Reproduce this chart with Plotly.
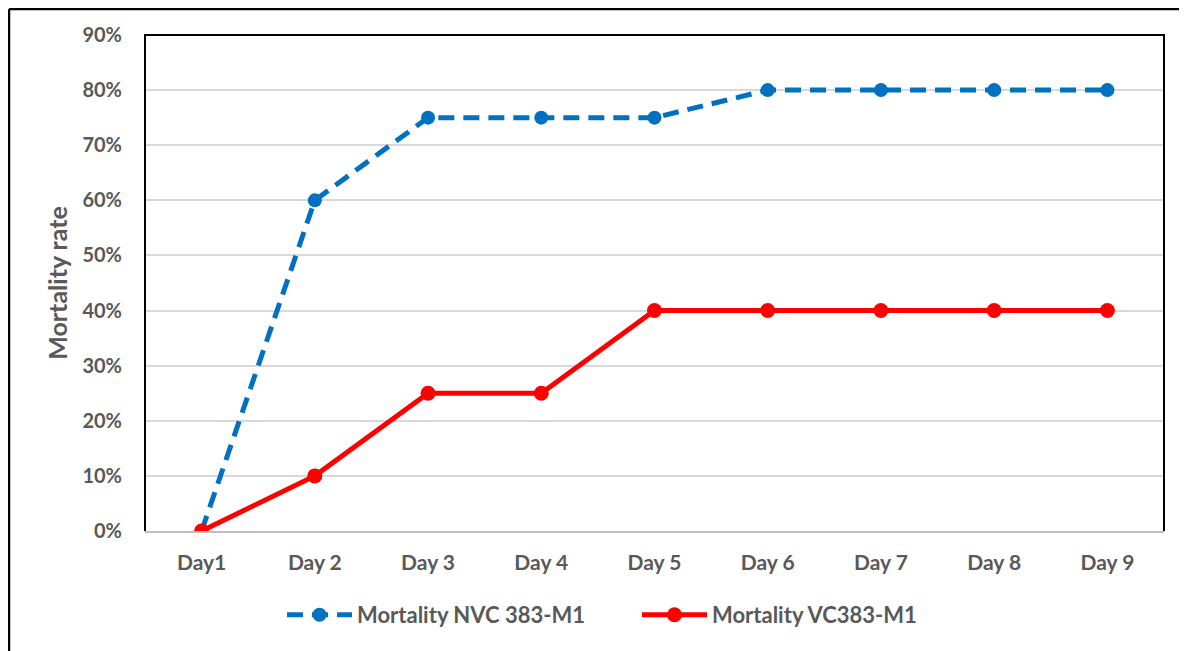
import plotly.graph_objects as go

days = ["Day1", "Day 2", "Day 3", "Day 4", "Day 5", "Day 6", "Day 7", "Day 8", "Day 9"]
nvc = [0.00, 0.60, 0.75, 0.75, 0.75, 0.80, 0.80, 0.80, 0.80]
vc = [0.00, 0.10, 0.25, 0.25, 0.40, 0.40, 0.40, 0.40, 0.40]
name_nvc = "Mortality NVC 383-M1"
name_vc = "Mortality VC383-M1"
y_ticks = [0, 0.1, 0.2, 0.3, 0.4, 0.5, 0.6, 0.7, 0.8, 0.9]

W, H = 1187, 651
ml, mt = 137, 27
pr, pb = 1156, 523
mr, mb = W - pr, H - pb
pw, ph = pr - ml, pb - mt

font_family = "Lato, 'Open Sans', sans-serif"
gray = "#595959"

fig = go.Figure()
fig.add_trace(go.Scatter(
    x=days, y=nvc, name=name_nvc, mode="lines+markers",
    line=dict(color="#0070C0", width=5, dash="16px,9px"),
    marker=dict(color="#0070C0", size=14, symbol="circle"),
))
fig.add_trace(go.Scatter(
    x=days, y=vc, name=name_vc, mode="lines+markers",
    line=dict(color="#FF0000", width=5),
    marker=dict(color="#FF0000", size=15, symbol="circle"),
))

# outer frame (left & top visible)
x0 = (1 - ml) / pw
y0 = 1 + (mt - 1) / ph
fig.add_shape(type="line", xref="paper", yref="paper", x0=x0, x1=x0, y0=y0, y1=-1,
              line=dict(color="black", width=2.5))
fig.add_shape(type="line", xref="paper", yref="paper", x0=x0, x1=2, y0=y0, y1=y0,
              line=dict(color="black", width=2.5))
# plot area frame: left, top, right
fig.add_shape(type="path", xref="paper", yref="paper",
              path="M 0 0 L 0 1 L 1 1 L 1 0",
              line=dict(color="black", width=2))

fig.update_layout(
    width=W, height=H,
    margin=dict(l=ml, r=mr, t=mt, b=mb),
    paper_bgcolor="white", plot_bgcolor="white",
    font=dict(family=font_family, color=gray, size=21),
    showlegend=True,
    legend=dict(orientation="h", x=(274 - ml) / pw, xanchor="left",
                y=(pb - 607) / ph, yanchor="middle",
                font=dict(size=22, color=gray, family=font_family, weight="bold"),
                itemwidth=65, entrywidth=275, entrywidthmode="pixels"),
    xaxis=dict(
        type="category", range=[-0.5, 8.5], showgrid=False,
        showline=True, linecolor="#BFBFBF", linewidth=2, zeroline=False,
        ticks="", ticklabelstandoff=12,
        tickfont=dict(size=21, color=gray, family=font_family, weight="bold"),
    ),
    yaxis=dict(
        range=[0, 0.9], tickvals=y_ticks, tickformat=".0%",
        showgrid=True, gridcolor="#D9D9D9", gridwidth=1.5, zeroline=False,
        showline=False, ticks="", ticklabelstandoff=22,
        tickfont=dict(size=20, color=gray, family=font_family, weight="bold"),
        title=dict(text="Mortality rate", standoff=7,
                   font=dict(size=25, color=gray, family=font_family, weight="bold")),
    ),
)

fig.write_html("out.html")
